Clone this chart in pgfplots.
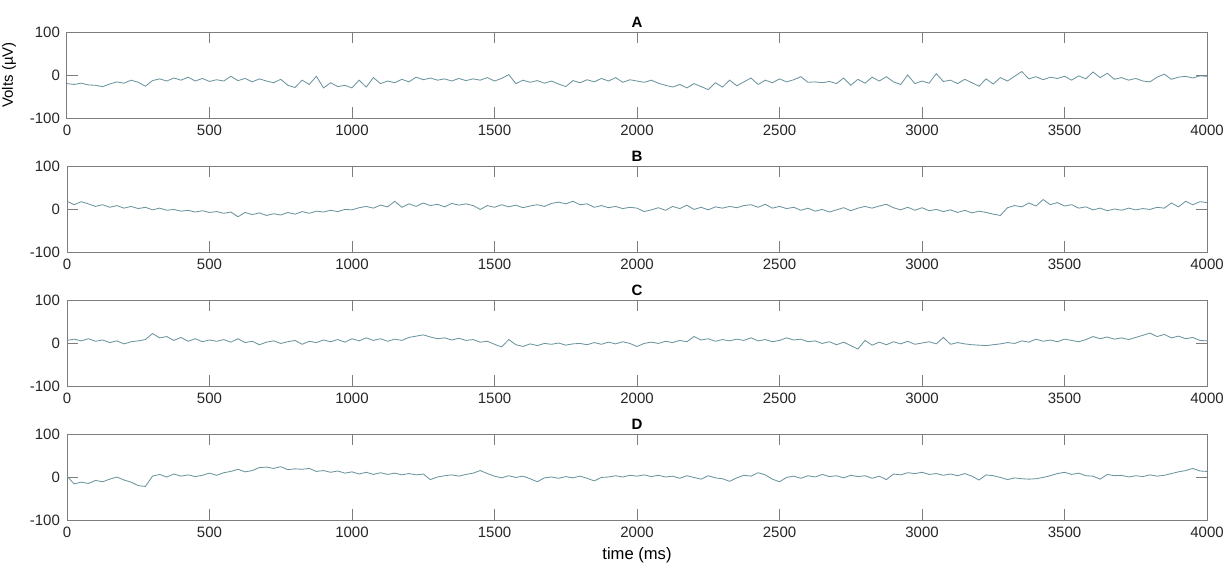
\documentclass[border=0pt]{standalone}
\usepackage{fontspec}
\setmainfont{Liberation Sans}
\usepackage{pgfplots}
\pgfplotsset{compat=1.18}

\definecolor{framegray}{RGB}{125,125,125}
\definecolor{sigcol}{RGB}{108,148,158}

\pgfplotsset{
  eeg/.style={
    scale only axis, width=570pt, height=43pt,
    anchor=north west,
    xmin=0, xmax=4000, ymin=-100, ymax=100,
    xtick={0,500,...,4000}, ytick={-100,0,100},
    tick align=inside, major tick length=5.5pt,
    axis line style={draw=framegray, line width=0.5pt},
    every tick/.style={draw=framegray, line width=0.5pt},
    /pgf/number format/assume math mode=true,
    /pgf/number format/1000 sep={},
    scaled ticks=false,
    ticklabel style={font=\fontsize{7.5}{9}\selectfont, text=black!85},
    every axis title/.style={font=\bfseries\fontsize{7.5}{9}\selectfont,
      at={(0.5,1)}, anchor=base, yshift=2.2pt},
  },
  sig/.style={color=sigcol, line width=0.42pt, mark=none},
}

\begin{document}
\begin{tikzpicture}
% A
\begin{axis}[eeg, at={(0,0)}, title={A},
  ylabel={Volts (µV)},
  every axis y label/.style={font=\fontsize{7.5}{9}\selectfont, rotate=90,
    at={(axis description cs:-0.0386,0.5)}, anchor=south}]
\addplot[sig] coordinates {
(0,-20)(25,-22)(50,-19)(75,-23)(100,-24)(125,-27)(150,-21)(175,-16)(200,-19)(225,-12)
(250,-17)(275,-26)(300,-13)(325,-9)(350,-14)(375,-7)(400,-12)(425,-5)(450,-14)(475,-8)
(500,-15)(525,-11)(550,-14)(575,-3)(600,-13)(625,-8)(650,-16)(675,-9)(700,-14)(725,-18)
(750,-10)(775,-24)(800,-29)(825,-12)(850,-22)(875,-3)(900,-30)(925,-18)(950,-27)(975,-24)
(1000,-30)(1025,-12)(1050,-28)(1075,-6)(1100,-20)(1125,-14)(1150,-18)(1175,-10)(1200,-16)(1225,-5)
(1250,-11)(1275,-7)(1300,-12)(1325,-9)(1350,-14)(1375,-8)(1400,-13)(1425,-9)(1450,-12)(1475,-6)
(1500,-14)(1525,-8)(1550,1)(1575,-20)(1600,-12)(1625,-17)(1650,-13)(1675,-19)(1700,-14)(1725,-21)
(1750,-27)(1775,-13)(1800,-18)(1825,-11)(1850,-16)(1875,-8)(1900,-14)(1925,-6)(1950,-17)(1975,-11)
(2000,-14)(2025,-17)(2050,-12)(2075,-19)(2100,-24)(2125,-28)(2150,-22)(2175,-30)(2200,-20)(2225,-27)
(2250,-34)(2275,-18)(2300,-28)(2325,-12)(2350,-25)(2375,-16)(2400,-7)(2425,-22)(2450,-12)(2475,-18)
(2500,-9)(2525,-16)(2550,-11)(2575,-4)(2600,-17)(2625,-16)(2650,-18)(2675,-15)(2700,-20)(2725,-7)
(2750,-24)(2775,-10)(2800,-19)(2825,-5)(2850,-14)(2875,-4)(2900,-16)(2925,-22)(2950,0)(2975,-20)
(3000,-14)(3025,-19)(3050,3)(3075,-15)(3100,-12)(3125,-20)(3150,-10)(3175,-18)(3200,-26)(3225,-9)
(3250,-21)(3275,-6)(3300,-14)(3325,-3)(3350,8)(3375,-9)(3400,-4)(3425,-11)(3450,-5)(3475,-8)
(3500,-3)(3525,-12)(3550,-2)(3575,-9)(3600,7)(3625,-6)(3650,4)(3675,-10)(3700,-6)(3725,-12)
(3750,-8)(3775,-14)(3800,-16)(3825,-5)(3850,2)(3875,-10)(3900,-5)(3925,-3)(3950,-7)(3975,-2)
(4000,-3)};
\end{axis}
% B
\begin{axis}[eeg, at={(0,-67pt)}, title={B}]
\addplot[sig] coordinates {
(0,18)(25,10)(50,17)(75,12)(100,6)(125,10)(150,4)(175,8)(200,2)(225,6)
(250,1)(275,4)(300,-2)(325,2)(350,-3)(375,-1)(400,-5)(425,-3)(450,-7)(475,-4)
(500,-8)(525,-6)(550,-10)(575,-7)(600,-18)(625,-8)(650,-13)(675,-9)(700,-15)(725,-11)
(750,-14)(775,-8)(800,-12)(825,-6)(850,-10)(875,-5)(900,-7)(925,-3)(950,-6)(975,-1)
(1000,-2)(1025,3)(1050,6)(1075,2)(1100,9)(1125,5)(1150,18)(1175,4)(1200,12)(1225,6)
(1250,14)(1275,8)(1300,11)(1325,5)(1350,13)(1375,9)(1400,12)(1425,8)(1450,-1)(1475,8)
(1500,4)(1525,10)(1550,5)(1575,9)(1600,3)(1625,7)(1650,10)(1675,6)(1700,13)(1725,16)
(1750,12)(1775,18)(1800,10)(1825,12)(1850,4)(1875,8)(1900,3)(1925,6)(1950,1)(1975,4)
(2000,2)(2025,-6)(2050,-2)(2075,3)(2100,-3)(2125,6)(2150,1)(2175,9)(2200,-1)(2225,4)
(2250,-2)(2275,5)(2300,2)(2325,6)(2350,3)(2375,8)(2400,10)(2425,4)(2450,11)(2475,2)
(2500,6)(2525,1)(2550,4)(2575,-3)(2600,2)(2625,-5)(2650,-1)(2675,-7)(2700,-2)(2725,3)
(2750,-4)(2775,2)(2800,6)(2825,2)(2850,7)(2875,11)(2900,3)(2925,-2)(2950,4)(2975,-3)
(3000,3)(3025,-4)(3050,-1)(3075,-6)(3100,-2)(3125,-8)(3150,-3)(3175,-9)(3200,-5)(3225,-8)
(3250,-12)(3275,-15)(3300,3)(3325,8)(3350,5)(3375,14)(3400,7)(3425,22)(3450,10)(3475,15)
(3500,7)(3525,10)(3550,2)(3575,5)(3600,-2)(3625,2)(3650,-4)(3675,0)(3700,-3)(3725,2)
(3750,-2)(3775,1)(3800,-1)(3825,4)(3850,2)(3875,14)(3900,5)(3925,18)(3950,10)(3975,17)
(4000,15)};
\end{axis}
% C
\begin{axis}[eeg, at={(0,-134pt)}, title={C}]
\addplot[sig] coordinates {
(0,6)(25,9)(50,5)(75,10)(100,4)(125,7)(150,1)(175,5)(200,-2)(225,3)
(250,5)(275,8)(300,22)(325,12)(350,15)(375,6)(400,13)(425,4)(450,10)(475,3)
(500,7)(525,4)(550,8)(575,2)(600,10)(625,1)(650,4)(675,-4)(700,2)(725,5)
(750,-1)(775,3)(800,6)(825,-3)(850,4)(875,1)(900,7)(925,3)(950,8)(975,2)
(1000,10)(1025,5)(1050,12)(1075,6)(1100,10)(1125,4)(1150,9)(1175,6)(1200,13)(1225,16)
(1250,19)(1275,14)(1300,10)(1325,12)(1350,7)(1375,11)(1400,6)(1425,8)(1450,2)(1475,4)
(1500,-3)(1525,-9)(1550,8)(1575,-4)(1600,-8)(1625,-2)(1650,-6)(1675,-1)(1700,-3)(1725,0)
(1750,-5)(1775,-2)(1800,-1)(1825,-4)(1850,1)(1875,-3)(1900,2)(1925,-2)(1950,3)(1975,-1)
(2000,-8)(2025,-1)(2050,2)(2075,-1)(2100,4)(2125,1)(2150,6)(2175,3)(2200,15)(2225,7)
(2250,10)(2275,4)(2300,8)(2325,5)(2350,9)(2375,6)(2400,12)(2425,5)(2450,8)(2475,3)
(2500,6)(2525,12)(2550,7)(2575,9)(2600,3)(2625,5)(2650,-1)(2675,3)(2700,-4)(2725,2)
(2750,-6)(2775,-14)(2800,6)(2825,-5)(2850,2)(2875,-4)(2900,3)(2925,-2)(2950,4)(2975,-3)
(3000,0)(3025,3)(3050,-2)(3075,13)(3100,-3)(3125,1)(3150,-2)(3175,-4)(3200,-5)(3225,-6)
(3250,-4)(3275,-2)(3300,1)(3325,-1)(3350,5)(3375,2)(3400,9)(3425,4)(3450,7)(3475,3)
(3500,9)(3525,6)(3550,3)(3575,8)(3600,15)(3625,10)(3650,14)(3675,9)(3700,12)(3725,8)
(3750,13)(3775,18)(3800,23)(3825,15)(3850,20)(3875,12)(3900,16)(3925,10)(3950,13)(3975,6)
(4000,5)};
\end{axis}
% D
\begin{axis}[eeg, at={(0,-201pt)}, title={D},
  xlabel={time (ms)},
  every axis x label/.style={font=\fontsize{8.3}{10}\selectfont,
    at={(axis description cs:0.5,0)}, anchor=center, yshift=-17.5pt}]
\addplot[sig] coordinates {
(0,2)(25,-16)(50,-12)(75,-15)(100,-8)(125,-11)(150,-5)(175,0)(200,-7)(225,-12)
(250,-20)(275,-22)(300,2)(325,6)(350,0)(375,7)(400,2)(425,5)(450,1)(475,4)
(500,9)(525,4)(550,10)(575,13)(600,18)(625,12)(650,15)(675,22)(700,23)(725,20)
(750,24)(775,17)(800,19)(825,18)(850,20)(875,13)(900,15)(925,11)(950,14)(975,9)
(1000,12)(1025,7)(1050,11)(1075,6)(1100,10)(1125,6)(1150,9)(1175,5)(1200,8)(1225,5)
(1250,7)(1275,-6)(1300,0)(1325,3)(1350,5)(1375,2)(1400,6)(1425,9)(1450,15)(1475,8)
(1500,2)(1525,-2)(1550,3)(1575,-1)(1600,2)(1625,-4)(1650,-11)(1675,-2)(1700,0)(1725,-3)
(1750,1)(1775,-2)(1800,2)(1825,-3)(1850,-9)(1875,-1)(1900,0)(1925,3)(1950,0)(1975,4)
(2000,2)(2025,5)(2050,1)(2075,4)(2100,0)(2125,2)(2150,-3)(2175,3)(2200,-1)(2225,-5)
(2250,3)(2275,-2)(2300,-4)(2325,-10)(2350,-2)(2375,4)(2400,2)(2425,10)(2450,5)(2475,-5)
(2500,-11)(2525,-1)(2550,2)(2575,-3)(2600,3)(2625,0)(2650,6)(2675,1)(2700,3)(2725,-2)
(2750,4)(2775,1)(2800,3)(2825,-3)(2850,2)(2875,-6)(2900,7)(2925,5)(2950,10)(2975,8)
(3000,11)(3025,6)(3050,8)(3075,4)(3100,7)(3125,3)(3150,8)(3175,2)(3200,-7)(3225,5)
(3250,3)(3275,-1)(3300,-6)(3325,-2)(3350,-4)(3375,-5)(3400,-4)(3425,-1)(3450,3)(3475,8)
(3500,11)(3525,6)(3550,9)(3575,3)(3600,2)(3625,-5)(3650,6)(3675,3)(3700,4)(3725,0)
(3750,3)(3775,1)(3800,5)(3825,2)(3850,4)(3875,8)(3900,12)(3925,15)(3950,20)(3975,14)
(4000,13)};
\end{axis}
\pgfresetboundingbox
\path[use as bounding box] (-33.5pt,-265.5pt) rectangle (581pt,16pt);
\end{tikzpicture}
\end{document}
